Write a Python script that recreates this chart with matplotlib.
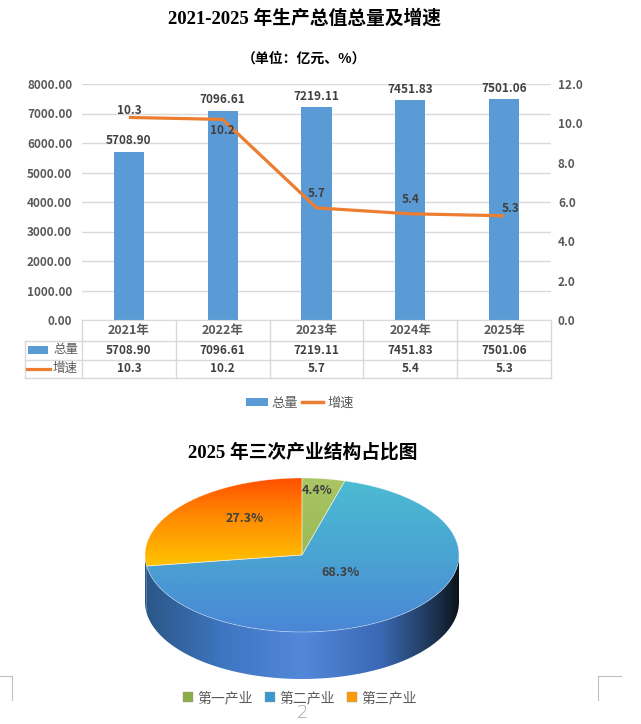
import numpy as np
import matplotlib
matplotlib.use('Agg')
import matplotlib.pyplot as plt
from matplotlib.patches import Polygon, Patch, Rectangle
from matplotlib.lines import Line2D
from matplotlib.colors import LinearSegmentedColormap

plt.rcParams['font.family'] = ['Noto Sans CJK SC', 'DejaVu Sans']

# ---------------- data ----------------
years = ['2021年', '2022年', '2023年', '2024年', '2025年']
totals = [5708.90, 7096.61, 7219.11, 7451.83, 7501.06]
growth = [10.3, 10.2, 5.7, 5.4, 5.3]
series_names = ['总量', '增速']
title1 = '2021-2025 年生产总值总量及增速'
subtitle = '（单位：亿元、%）'
pie_title = '2025 年三次产业结构占比图'
industries = ['第一产业', '第二产业', '第三产业']
shares = [4.4, 68.3, 27.3]

# ---------------- layout helpers ----------------
W, H = 641, 724
fig = plt.figure(figsize=(W / 100, H / 100), dpi=100)
fig.patch.set_facecolor('white')


def fx(px):
    return px / W


def fy(py):
    return 1 - py / H


SERIF = ['Liberation Serif', 'Noto Sans CJK SC']
BAR_C = '#5B9BD5'
LINE_C = '#ED7D31'
GRID_C = '#D9D9D9'
TXT_C = '#595959'
LAB_C = '#404040'

# ---------------- bar + line chart ----------------
L, R, T, B = 82, 551, 84, 320
ax = fig.add_axes([fx(L), fy(B), (R - L) / W, (B - T) / H])
x = np.arange(len(years))
bars = ax.bar(x, totals, width=0.32, color=BAR_C, zorder=2)
ax.set_xlim(-0.5, len(years) - 0.5)
ax.set_ylim(0, 8000)
yt = np.arange(0, 8001, 1000)
ax.set_yticks(yt)
ax.set_yticklabels([f'{v:.2f}' for v in yt], fontweight='bold')
ax.grid(axis='y', color=GRID_C, lw=1, zorder=0)
ax.set_xticks([])
for s in ['top', 'right', 'left']:
    ax.spines[s].set_visible(False)
ax.spines['bottom'].set_color(GRID_C)
ax.tick_params(axis='y', length=0, pad=7, labelsize=8.5, labelcolor=TXT_C)
ax.bar_label(bars, labels=[f'{v:.2f}' for v in totals], padding=3,
             fontsize=8.5, fontweight='bold', color=LAB_C)

ax2 = ax.twinx()
ax2.plot(x, growth, color=LINE_C, lw=2.3, zorder=3, solid_capstyle='butt')
ax2.set_ylim(0, 12)
yt2 = np.arange(0, 12.1, 2)
ax2.set_yticks(yt2)
ax2.set_yticklabels([f'{v:.1f}' for v in yt2], fontweight='bold')
for s in ['top', 'right', 'left', 'bottom']:
    ax2.spines[s].set_visible(False)
ax2.tick_params(axis='y', length=0, pad=5, labelsize=8.5, labelcolor=TXT_C)
line_offsets = [(0, 7), (0, -11), (0, 14), (0, 14), (6, 7)]
for xi, v, off in zip(x, growth, line_offsets):
    ax2.annotate(f'{v:.1f}', (xi, v), xytext=off, textcoords='offset pixels',
                 ha='center', va='center', fontsize=8.5, fontweight='bold',
                 color=LAB_C, zorder=4)

# ---------------- overlay for table / pie ----------------
ov = fig.add_axes([0, 0, 1, 1], zorder=5)
ov.set_xlim(0, W)
ov.set_ylim(H, 0)
ov.axis('off')
ov.patch.set_alpha(0)

# data table
edges = np.linspace(L, R, len(years) + 1)
rows_y = [320, 340.5, 359.5, 378]
TL = 25
for e in edges:
    ov.plot([e, e], [rows_y[0], rows_y[-1]], color=GRID_C, lw=1)
ov.plot([TL, TL], [rows_y[1], rows_y[-1]], color=GRID_C, lw=1)
for yy in rows_y[1:]:
    ov.plot([TL, R], [yy, yy], color=GRID_C, lw=1)
centers = (edges[:-1] + edges[1:]) / 2
rc = [(rows_y[i] + rows_y[i + 1]) / 2 for i in range(3)]
for cxx, yr, tv, gv in zip(centers, years, totals, growth):
    ov.text(cxx, rc[0], yr, ha='center', va='center', fontsize=9,
            fontweight='bold', color=TXT_C)
    ov.text(cxx, rc[1], f'{tv:.2f}', ha='center', va='center', fontsize=8.5,
            fontweight='bold', color=LAB_C)
    ov.text(cxx, rc[2], f'{gv:.1f}', ha='center', va='center', fontsize=8.5,
            fontweight='bold', color=LAB_C)
ov.add_patch(Rectangle((28, rc[1] - 4), 20, 8, facecolor=BAR_C, edgecolor='none'))
ov.plot([27, 50], [rc[2], rc[2]], color=LINE_C, lw=2.3)
ov.text(53, rc[1], series_names[0], ha='left', va='center', fontsize=9,
        color=TXT_C)
ov.text(53, rc[2], series_names[1], ha='left', va='center', fontsize=9,
        color=TXT_C)

fig.legend(handles=[Patch(facecolor=BAR_C), Line2D([], [], color=LINE_C, lw=2.5)],
           labels=series_names, loc='center', bbox_to_anchor=(fx(300), fy(403)),
           ncol=2, frameon=False, fontsize=9.5, labelcolor=TXT_C,
           handlelength=1.6, handleheight=0.6, handletextpad=0.3,
           columnspacing=0.3)

# titles
fig.text(fx(304), fy(18), title1, fontsize=13.5, fontweight='bold',
         family=SERIF, ha='center', va='center', color='black')
fig.text(fx(304), fy(59), subtitle, fontsize=10, fontweight='bold',
         ha='center', va='center', color='black')
fig.text(fx(303), fy(452), pie_title, fontsize=13.5, fontweight='bold',
         family=SERIF, ha='center', va='center', color='black')

# ---------------- 3D pie ----------------
pcx, pcy, prx, pry, dep = 302, 555, 157, 77, 47


def ell(th):
    th = np.radians(th)
    return pcx + prx * np.cos(th), pcy - pry * np.sin(th)


def grad_fill(pts, stops, extent, along='y', zorder=2):
    poly = Polygon(pts, closed=True, facecolor='none', edgecolor='none')
    ov.add_patch(poly)
    cmap = LinearSegmentedColormap.from_list('g', stops)
    g = np.linspace(0, 1, 256)
    arr = g[:, None] if along == 'y' else g[None, :]
    im = ov.imshow(arr, cmap=cmap, extent=extent, origin='upper',
                   aspect='auto', zorder=zorder, interpolation='bilinear')
    im.set_clip_path(poly)


top_stops = [
    [(0, '#A9C564'), (1, '#8CAE46')],
    [(0, '#4DBCD3'), (0.5, '#4AA4D2'), (1, '#4A86D6')],
    [(0, '#FF5000'), (0.25, '#FF8A00'), (0.55, '#FFC000'), (1, '#FFC800')],
]
blue_side = [(0, '#2B5687'), (0.25, '#3E76C2'), (0.5, '#5388D9'),
             (0.75, '#3B6AB5'), (0.92, '#1D3553'), (1, '#0B131C')]
side_stops = [
    [(0, '#5E7A30'), (1, '#3E5220')],
    blue_side,
    blue_side,
]
cum = np.concatenate([[0], np.cumsum(shares)]) / sum(shares) * 360
starts = 90 - cum[:-1]
ends = 90 - cum[1:]

top_ext = (pcx - prx, pcx + prx, pcy + pry, pcy - pry)
side_ext = (pcx - prx, pcx + prx, pcy + pry + dep, pcy)

# sides (front half only)
for i in range(len(shares)):
    a, b = ends[i], starts[i]
    for k in (-360, 0, 360):
        lo, hi = max(a, -180 + k), min(b, k)
        if hi - lo <= 0:
            continue
        th = np.linspace(lo, hi, 120)
        xs, ys = ell(th)
        pts = np.column_stack([np.concatenate([xs, xs[::-1]]),
                               np.concatenate([ys, ys[::-1] + dep])])
        grad_fill(pts, side_stops[i], side_ext, along='x', zorder=2)

# top faces
for i in range(len(shares)):
    th = np.linspace(starts[i], ends[i], 200)
    xs, ys = ell(th)
    pts = np.column_stack([np.concatenate([[pcx], xs]),
                           np.concatenate([[pcy], ys])])
    grad_fill(pts, top_stops[i], top_ext, along='y', zorder=3)
    ov.add_patch(Polygon(pts, closed=True, facecolor='none',
                         edgecolor='white', lw=0.5, alpha=0.5, zorder=4))

# pie labels
label_frac = [(0.7, 0.85), (0.37, 0.31), (0.48, 0.73)]
for i, (fxr, fyr) in enumerate(label_frac):
    mid = np.radians((starts[i] + ends[i]) / 2)
    lx = pcx + prx * fxr * np.cos(mid)
    ly = pcy - pry * fyr * np.sin(mid)
    ov.text(lx, ly, f'{shares[i]:.1f}%', ha='center', va='center',
            fontsize=9, fontweight='bold', color=LAB_C, zorder=6)

fig.legend(handles=[Patch(facecolor=c, edgecolor='#9a9a9a', lw=0.3)
                    for c in ['#8AAE45', '#3B97CF', '#FF9A00']],
           labels=industries, loc='center', bbox_to_anchor=(fx(300), fy(698)),
           ncol=3, frameon=False, fontsize=10, labelcolor=TXT_C,
           handlelength=0.7, handleheight=0.7, handletextpad=0.3,
           columnspacing=0.9)

# page decorations
fig.text(fx(302), fy(713), '2', fontsize=13, color='#A6A6A6', ha='center',
         va='center', family='DejaVu Sans', fontweight='light')
for xs_, ys_ in [([0, 12], [676, 676]), ([12, 12], [676, 700]),
                 ([598, 621], [676, 676]), ([598, 598], [676, 700])]:
    ov.plot(xs_, ys_, color='#BFBFBF', lw=0.8)

fig.savefig('out.png', dpi=100)
